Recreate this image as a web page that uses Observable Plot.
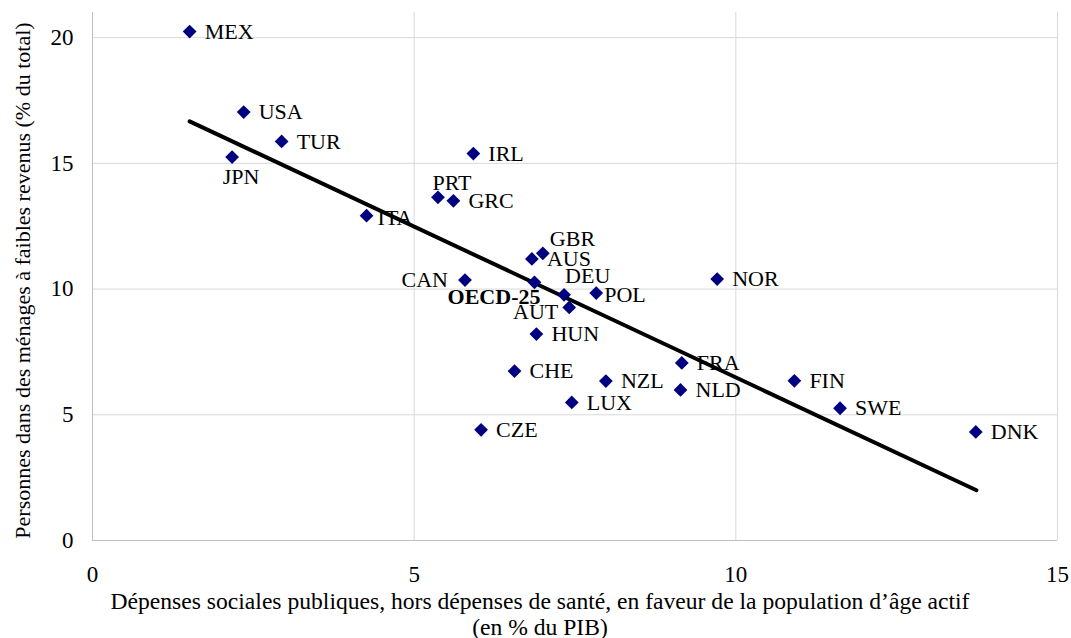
<!DOCTYPE html>
<html><head><meta charset="utf-8">
<script src="https://cdn.jsdelivr.net/npm/d3@7"></script>
<script src="https://cdn.jsdelivr.net/npm/@observablehq/plot@0.6"></script>
<style>body{margin:0;background:#fff}</style>
</head><body><div id="chart"></div>
<script>
// Data
const countries = ["MEX","USA","TUR","JPN","IRL","PRT","GRC","ITA","GBR","AUS","CAN","OECD-25","DEU","POL","AUT","HUN","NOR","FRA","CHE","NZL","NLD","FIN","SWE","LUX","CZE","DNK"];
const spending  = [1.51, 2.35, 2.94, 2.17, 5.92, 5.37, 5.61, 4.26, 7.00, 6.83, 5.79, 6.87, 7.33, 7.83, 7.41, 6.90, 9.71, 9.16, 6.56, 7.98, 9.14, 10.91, 11.62, 7.45, 6.04, 13.73];
const lowIncome = [20.24, 17.04, 15.87, 15.25, 15.39, 13.65, 13.51, 12.92, 11.42, 11.20, 10.36, 10.27, 9.77, 9.84, 9.27, 8.21, 10.40, 7.06, 6.74, 6.34, 5.99, 6.35, 5.26, 5.49, 4.40, 4.32];
const trendSpending  = [1.51, 13.74];
const trendLowIncome = [16.67, 2.00];
const xTicks = [0, 5, 10, 15];
const yTicks = [0, 5, 10, 15, 20];
const xTitle = "Dépenses sociales publiques, hors dépenses de santé, en faveur de la population d’âge actif\n(en % du PIB)";
const yTitle = "Personnes dans des ménages à faibles revenus (% du total)";

const points = countries.map((c, i) => ({country: c, x: spending[i], y: lowIncome[i]}));
const trend = trendSpending.map((x, i) => ({x, y: trendLowIncome[i]}));

// label placement (layout only)
const place = {
  "JPN": {dx: 9, dy: 20, anchor: "middle"},
  "PRT": {dx: 14, dy: -14, anchor: "middle"},
  "ITA": {dx: 11, dy: 2, anchor: "start"},
  "CAN": {dx: -17, dy: 0, anchor: "end"},
  "OECD-25": {dx: 6, dy: 15, anchor: "end", bold: true},
  "AUT": {dx: -11, dy: 5, anchor: "end"},
  "DEU": {dx: 1, dy: -19, anchor: "start"},
  "GBR": {dx: 7, dy: -14, anchor: "start"},
  "POL": {dx: 8, dy: 2, anchor: "start"}
};
const font = "'Liberation Serif', 'Times New Roman', serif";

const labelMarks = points.map(p => {
  const o = place[p.country] || {dx: 15, dy: 0, anchor: "start"};
  return Plot.text([p], {
    x: "x", y: "y", text: "country",
    dx: o.dx, dy: o.dy, textAnchor: o.anchor,
    fontSize: 22, fontWeight: o.bold ? "bold" : "normal", fill: "#000"
  });
});

const chart = Plot.plot({
  width: 1071, height: 638,
  marginLeft: 92, marginRight: 14, marginTop: 12, marginBottom: 98,
  style: {fontFamily: font, background: "#fff", overflow: "visible"},
  x: {domain: [0, 15]},
  y: {domain: [0, 21]},
  marks: [
    Plot.gridX(xTicks.filter(d => d > 0), {stroke: "#d9d9d9", strokeOpacity: 1, strokeWidth: 1}),
    Plot.gridY(yTicks.filter(d => d > 0), {stroke: "#d9d9d9", strokeOpacity: 1, strokeWidth: 1}),
    Plot.ruleX([0], {stroke: "#bfbfbf", strokeWidth: 1}),
    Plot.ruleY([0], {stroke: "#bfbfbf", strokeWidth: 1}),
    Plot.axisX(xTicks, {tickSize: 0, tickPadding: 25, fontSize: 23, fill: "#000", label: null}),
    Plot.axisY(yTicks, {tickSize: 0, tickPadding: 19, fontSize: 23, fill: "#000", label: null}),
    Plot.line(trend, {x: "x", y: "y", stroke: "#000", strokeWidth: 4}),
    Plot.dot(points, {x: "x", y: "y", symbol: "diamond2", r: 6.2, fill: "#000080", stroke: "none"}),
    ...labelMarks,
    Plot.text([xTitle], {frameAnchor: "bottom", dx: -35, dy: 50, lineAnchor: "top", lineHeight: 1.1, textAnchor: "middle", fontSize: 23.6, fill: "#000"}),
    Plot.text([yTitle], {frameAnchor: "left", dx: -70, dy: 4, rotate: -90, textAnchor: "middle", fontSize: 22, fill: "#000"})
  ]
});
document.getElementById("chart").appendChild(chart);
</script>
</body></html>
